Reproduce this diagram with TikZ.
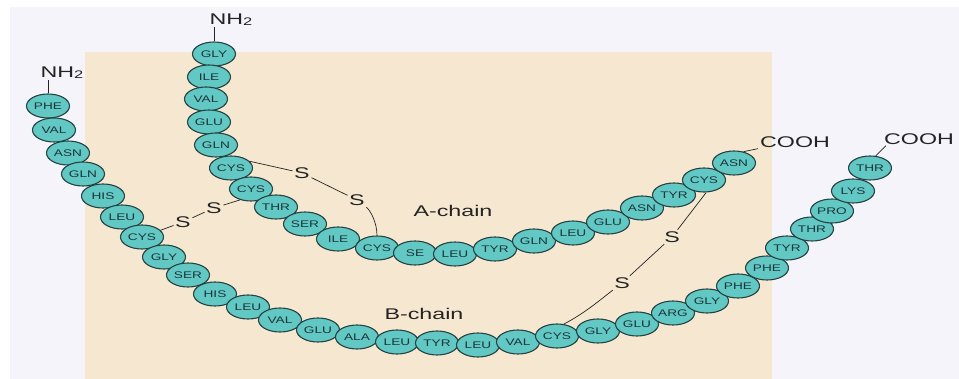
\documentclass[tikz,border=0pt]{standalone}
\usepackage{fontspec}
\usetikzlibrary{shapes.geometric}
\newfontfamily\rlabfont[FakeStretch=1.42]{Liberation Sans}
\newfontfamily\rbigfont[FakeStretch=1.5]{Liberation Sans}
\definecolor{lav}{RGB}{245,244,250}
\definecolor{beige}{RGB}{246,232,208}
\definecolor{tealfill}{RGB}{98,200,196}
\definecolor{outl}{RGB}{38,66,66}
\definecolor{txtc}{RGB}{28,52,58}
\definecolor{inkc}{RGB}{35,35,35}
\begin{document}
\begin{tikzpicture}[x=1pt,y=-1pt,
  aa/.style={ellipse, draw=outl, fill=tealfill, line width=1.1pt,
    minimum width=43pt, minimum height=24pt, inner sep=0pt,
    font=\rlabfont\fontsize{9.6}{10}\selectfont, text=txtc},
  bigtxt/.style={font=\rbigfont\fontsize{15.5}{16}\selectfont, inner sep=1pt, text=inkc},
  sstxt/.style={font=\rbigfont\fontsize{15.5}{16}\selectfont, inner sep=1.5pt, text=inkc},
  ss/.style={line width=0.7pt, draw=inkc}]
\useasboundingbox (0,0) rectangle (959,379);
\fill[white] (0,0) rectangle (959,379);
\fill[lav] (10,7) rectangle (959,379);
\fill[beige] (85,52) rectangle (772,379);
% A-chain
\foreach \n/\x/\y/\t in {A1/214/54/GLY, A2/209/77/ILE, A3/206/99/VAL, A4/209/122/GLU,
  A5/216/145/GLN, A6/231/168/CYS, A7/251/189/CYS, A8/276/207/THR, A9/305/224/SER,
  A10/338/239/ILE, A11/377/248/CYS, A12/415/253/SE, A13/455/254/LEU, A14/495/249/TYR,
  A15/534/241/GLN, A16/573/233/LEU, A17/608/222/GLU, A18/642/208/ASN, A19/674/195/TYR,
  A20/704/180/CYS, A21/734/163/ASN}
  \node[aa] (\n) at (\x,\y) {\t};
% B-chain
\foreach \n/\x/\y/\t in {B1/48/106/PHE, B2/54/130/VAL, B3/68/153/ASN, B4/83/174/GLN,
  B5/103/196/HIS, B6/122/217/LEU, B7/142/237/CYS, B8/164/257/GLY, B9/188/275/SER,
  B10/215/294/HIS, B11/248/307/LEU, B12/280/320/VAL, B13/318/330/GLU, B14/357/337/ALA,
  B15/397/342/LEU, B16/437/343/TYR, B17/478/345/LEU, B18/518/342/VAL, B19/557/336/CYS,
  B20/598/331/GLY, B21/637/324/GLU, B22/673/313/ARG, B23/707/301/GLY, B24/738/286/PHE,
  B25/767/268/PHE, B26/787/248/TYR, B27/812/229/THR, B28/832/211/PRO, B29/853/191/LYS,
  B30/870/168/THR}
  \node[aa] (\n) at (\x,\y) {\t};
% end labels
\node[bigtxt] (nhA) at (231,20) {NH\raisebox{-1pt}{\fontsize{11}{11}\selectfont 2}};
\node[bigtxt] (nhB) at (62,73) {NH\raisebox{-1pt}{\fontsize{11}{11}\selectfont 2}};
\node[bigtxt] (cA) at (795,142) {COOH};
\node[bigtxt] (cB) at (919,139) {COOH};
\node[bigtxt] (achain) at (453,211) {A-chain};
\node[bigtxt] (bchain) at (424,314) {B-chain};
% S labels
\node[sstxt] (S1) at (302,173) {S};
\node[sstxt] (S2) at (357,200) {S};
\node[sstxt] (S3) at (214,208) {S};
\node[sstxt] (S4) at (183,222) {S};
\node[sstxt] (S5) at (672,237) {S};
\node[sstxt] (S6) at (622,283) {S};
% terminal connectors
\draw[ss] (A1.north) -- (A1.north |- nhA.south);
\draw[ss] (B1.north) -- (B1.north |- nhB.south);
\draw[ss] (A21.50) -- ([xshift=-1pt]cA.south west);
\draw[ss] (B30.65) -- ([xshift=3pt]cB.south west);
% disulfide bridges
\draw[ss] (A6.20) -- (S1);
\draw[ss] (S1) -- (S2);
\draw[ss] (S2) .. controls (370,210) and (377,222) .. (A11.north);
\draw[ss] (A7.225) -- (S3);
\draw[ss] (S3) -- (S4);
\draw[ss] (S4) -- (B7.20);
\draw[ss] (A20.280) -- (S5);
\draw[ss] (S5) -- (S6);
\draw[ss] (S6) .. controls (600,300) and (585,313) .. (B19.60);
\end{tikzpicture}
\end{document}
